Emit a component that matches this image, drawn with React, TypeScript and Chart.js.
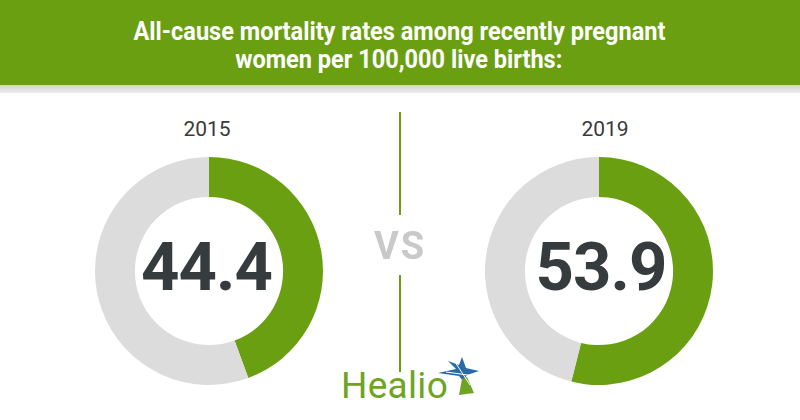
import React, { useEffect, useLayoutEffect, useRef } from "react";
import { Chart, registerables } from "chart.js";

Chart.register(...registerables);

const titleLines = [
  "All-cause mortality rates among recently pregnant",
  "women per 100,000 live births:",
];
const years = ["2015", "2019"];
const rates = [44.4, 53.9];
const scaleTotal = 100;
const sliceLabels = ["Rate", "Remainder"];

const GREEN = "#6a9f12";
const GRAY = "#dcdcdc";

function Donut({ value, left, top }: { value: number; left: number; top: number }) {
  const ref = useRef<HTMLCanvasElement | null>(null);
  useEffect(() => {
    if (!ref.current) return;
    const chart = new Chart(ref.current, {
      type: "doughnut",
      data: {
        labels: sliceLabels,
        datasets: [
          {
            data: [value, scaleTotal - value],
            backgroundColor: [GREEN, GRAY],
            borderWidth: 0,
            hoverOffset: 0,
          },
        ],
      },
      options: {
        responsive: false,
        maintainAspectRatio: false,
        animation: false,
        cutout: "65%",
        rotation: 0,
        layout: { padding: 6 },
        plugins: { legend: { display: false }, tooltip: { enabled: false } },
        events: [],
      },
    });
    return () => chart.destroy();
  }, [value]);
  return (
    <canvas
      ref={ref}
      width={240}
      height={240}
      style={{ position: "absolute", left, top, width: 240, height: 240 }}
    />
  );
}

export default function App() {
  const l1 = useRef<HTMLSpanElement | null>(null);
  const l2 = useRef<HTMLSpanElement | null>(null);

  useLayoutEffect(() => {
    document.body.style.margin = "0";
    const fit = () => {
      if (!l1.current || !l2.current) return;
      const w1 = l1.current.offsetWidth;
      const k = w1 > 0 ? 532 / w1 : 1;
      l1.current.style.transform = `scaleX(${k})`;
      l2.current.style.transform = `scaleX(${k})`;
    };
    fit();
    (document as any).fonts?.ready?.then(fit);
  }, []);

  const font = "Roboto, 'Noto Sans', sans-serif";
  const titleStyle = (top: number): React.CSSProperties => ({
    position: "absolute",
    left: 0,
    width: 798,
    top,
    textAlign: "center",
    fontSize: 25,
    lineHeight: "25px",
    fontWeight: 700,
    color: "#ffffff",
    whiteSpace: "nowrap",
  });
  const spanStyle: React.CSSProperties = { display: "inline-block", transformOrigin: "50% 50%" };

  const yearStyle = (cx: number): React.CSSProperties => ({
    position: "absolute",
    left: cx - 60,
    width: 120,
    top: 118.5,
    textAlign: "center",
    fontSize: 21,
    lineHeight: "21px",
    color: "#3a3a3a",
  });
  const numStyle = (cx: number): React.CSSProperties => ({
    position: "absolute",
    left: cx - 100,
    width: 200,
    top: 233.5,
    textAlign: "center",
    fontSize: 67,
    lineHeight: "67px",
    fontWeight: 700,
    color: "#363b3e",
    letterSpacing: -1,
  });

  return (
    <div
      style={{
        position: "relative",
        width: 800,
        height: 420,
        background: "#ffffff",
        overflow: "hidden",
        fontFamily: font,
      }}
    >
      <div style={{ position: "absolute", left: 0, top: 0, width: 800, height: 85, background: GREEN }} />
      <div
        style={{
          position: "absolute",
          left: 0,
          top: 85,
          width: 800,
          height: 8,
          background: "linear-gradient(#d4d4d4, #ececec)",
        }}
      />
      <div style={titleStyle(19)}>
        <span ref={l1} style={spanStyle}>{titleLines[0]}</span>
      </div>
      <div style={titleStyle(46.7)}>
        <span ref={l2} style={spanStyle}>{titleLines[1]}</span>
      </div>

      <Donut value={rates[0]} left={88.5} top={151} />
      <Donut value={rates[1]} left={479.3} top={150.7} />

      <div style={yearStyle(207)}>{years[0]}</div>
      <div style={yearStyle(605)}>{years[1]}</div>

      <div style={numStyle(206.5)}>{rates[0].toFixed(1)}</div>
      <div style={numStyle(601)}>{rates[1].toFixed(1)}</div>

      <div style={{ position: "absolute", left: 399, top: 112, width: 2, height: 103, background: GREEN }} />
      <div style={{ position: "absolute", left: 399, top: 275, width: 2, height: 97, background: GREEN }} />
      <div
        style={{
          position: "absolute",
          left: 340,
          width: 120,
          top: 227,
          textAlign: "center",
          fontSize: 38,
          lineHeight: "38px",
          fontWeight: 700,
          color: "#c9c9c9",
          letterSpacing: 2,
        }}
      >
        VS
      </div>

      <div
        style={{
          position: "absolute",
          left: 341,
          top: 367,
          fontSize: 37,
          lineHeight: "37px",
          fontWeight: 400,
          color: "#6ea323",
          letterSpacing: 0.3,
          background: "transparent",
        }}
      >
        Healio
      </div>
      <svg
        width={50}
        height={45}
        viewBox="435 355 50 45"
        style={{ position: "absolute", left: 435, top: 355 }}
      >
        <polygon
          points="462,357 466,368 479,371 467,375 463,381 459,376 438,373 456,369 448,361 459,365"
          fill="#2a6aa8"
        />
        <polygon points="462,379 459,395 474,393 467,377" fill="#6ea323" />
        <line x1="446" y1="372" x2="475" y2="376" stroke="#ffffff" strokeWidth={1} />
        <line x1="455" y1="362" x2="470" y2="385" stroke="#ffffff" strokeWidth={1} />
      </svg>
    </div>
  );
}
